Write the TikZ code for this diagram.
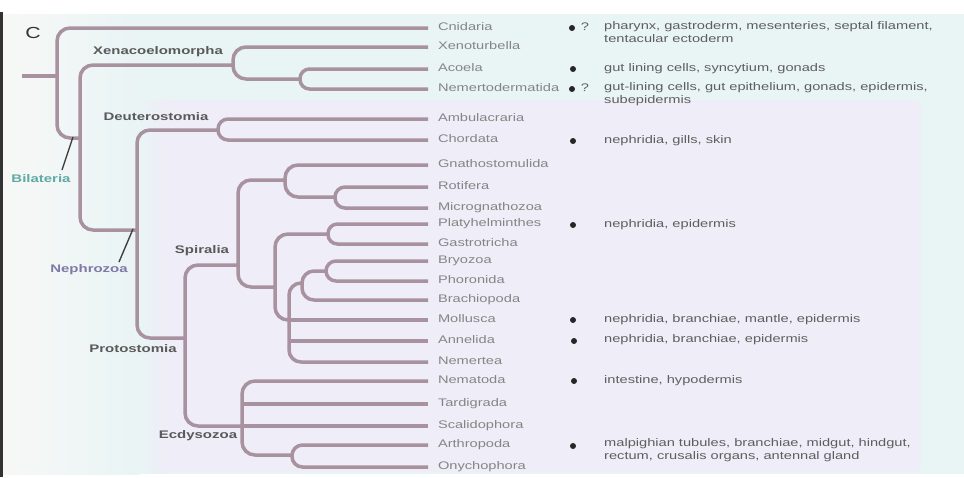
\documentclass[tikz,border=0pt]{standalone}
\usepackage{fontspec}
\newfontfamily\tipfam{Liberation Sans}[FakeStretch=1.33]
\newfontfamily\cladefam{Liberation Sans}[FakeStretch=1.36]
\newcommand\tipfont{\tipfam\fontsize{11}{13}\selectfont}
\newcommand\cladefont{\cladefam\bfseries\fontsize{11}{13}\selectfont}
\definecolor{brc}{HTML}{A8929F}
\definecolor{tipc}{HTML}{858585}
\definecolor{cladec}{HTML}{5A5A5A}
\definecolor{bilc}{HTML}{5FAAA2}
\definecolor{nephc}{HTML}{7E79A6}
\definecolor{descc}{HTML}{5E5E5E}
\definecolor{cyanbg}{HTML}{E9F4F5}
\definecolor{lavbg}{HTML}{EFEDF7}
\definecolor{whbg}{HTML}{F7F8F6}
\newcommand\brk[4]{\draw[br, rounded corners=#1] (#2) -- (#2 -| #3) -- (#4 -| #3) -- (#4);}
\begin{document}
\begin{tikzpicture}[x=1pt,y=-1pt,
  br/.style={draw=brc, line width=3.5pt},
  tip/.style={anchor=west, inner xsep=0pt, inner ysep=0pt, outer xsep=10pt, text=tipc, font=\tipfont, text height=7.9pt, text depth=2.2pt},
  clade/.style={text=cladec, font=\cladefont, inner sep=0pt, text height=7.9pt, text depth=2.2pt},
  desc/.style={anchor=west, inner sep=0pt, text=descc, font=\tipfont, text height=7.9pt, text depth=2.2pt},
  dotm/.style={circle, fill=black!85, inner sep=0pt, minimum size=6pt},
  qm/.style={text=descc, font=\tipfont, inner sep=0pt},
  ptr/.style={draw=black!75, line width=1.4pt}
]
\useasboundingbox (0,0) rectangle (964,477);
% background
\fill[white] (0,0) rectangle (964,477);
\fill[cyanbg] (3,14) rectangle (964,474);
\shade[left color=whbg, right color=cyanbg] (3,14) rectangle (140,474);
\fill[lavbg, rounded corners=8pt] (150,100) rectangle (921,472);
\shade[left color=cyanbg, right color=lavbg] (140,100) rectangle (166,472);
\fill[black!80] (0,12) rectangle (2.5,477);
% panel letter
\node[text=black!80, font=\tipfam\fontsize{16}{18}\selectfont, inner sep=0pt] (letter) at (33,33) {C};
% tips
\node[tip] (tCni) at (428,28) {Cnidaria};
\node[tip] (tXnt) at (428,47) {Xenoturbella};
\node[tip] (tAco) at (428,69) {Acoela};
\node[tip] (tNmd) at (428,89) {Nemertodermatida};
\node[tip] (tAmb) at (428,119) {Ambulacraria};
\node[tip] (tCho) at (428,140) {Chordata};
\node[tip] (tGns) at (428,165) {Gnathostomulida};
\node[tip] (tRot) at (428,187) {Rotifera};
\node[tip] (tMic) at (428,208) {Micrognathozoa};
\node[tip] (tPla) at (428,224) {Platyhelminthes};
\node[tip] (tGas) at (428,244) {Gastrotricha};
\node[tip] (tBry) at (428,261) {Bryozoa};
\node[tip] (tPho) at (428,281) {Phoronida};
\node[tip] (tBra) at (428,300) {Brachiopoda};
\node[tip] (tMol) at (428,320) {Mollusca};
\node[tip] (tAnn) at (428,341) {Annelida};
\node[tip] (tNmr) at (428,362) {Nemertea};
\node[tip] (tNem) at (428,381) {Nematoda};
\node[tip] (tTar) at (428,404) {Tardigrada};
\node[tip] (tSca) at (428,426) {Scalidophora};
\node[tip] (tArt) at (428,445) {Arthropoda};
\node[tip] (tOny) at (428,467) {Onychophora};
% internal nodes
\coordinate (r0) at (22,76);
\coordinate (nRoot) at (57,76);
\coordinate (nBil) at (80,138);
\coordinate (nXen) at (233,65);
\coordinate (nAcoe) at (300,79);
\coordinate (nNeph) at (137,230);
\coordinate (nDeu) at (218,130);
\coordinate (nPro) at (185,338);
\coordinate (nSpi) at (238,265);
\coordinate (nGna) at (285,180);
\coordinate (nRM) at (335,197);
\coordinate (nPlat) at (275,287);
\coordinate (nRou) at (328,234);
\coordinate (nLoph) at (289,320);
\coordinate (nBPB) at (302,283);
\coordinate (nBP) at (326,271);
\coordinate (nEcd) at (242,426);
\coordinate (nPan) at (292,455);
% branches
\draw[br] (r0) -- (nRoot);
\brk{13pt}{tCni.west}{nRoot}{nBil}
\brk{13pt}{nXen}{nBil}{nNeph}
\brk{13pt}{tXnt.west}{nXen}{nAcoe}
\brk{9.5pt}{tAco.west}{nAcoe}{tNmd.west}
\brk{13pt}{nDeu}{nNeph}{nPro}
\brk{10pt}{tAmb.west}{nDeu}{tCho.west}
\brk{13pt}{nSpi}{nPro}{nEcd}
\brk{13pt}{nGna}{nSpi}{nPlat}
\brk{13pt}{tGns.west}{nGna}{nRM}
\brk{10pt}{tRot.west}{nRM}{tMic.west}
\brk{13pt}{nRou}{nPlat}{nLoph}
\brk{9.5pt}{tPla.west}{nRou}{tGas.west}
\brk{12pt}{nBPB}{nLoph}{tNmr.west}
\draw[br] (nLoph) -- (tMol.west);
\draw[br] (tAnn.west) -- (tAnn.west -| nLoph);
\brk{12pt}{nBP}{nBPB}{tBra.west}
\brk{10pt}{tBry.west}{nBP}{tPho.west}
\brk{13pt}{tNem.west}{nEcd}{nPan}
\draw[br] (tTar.west) -- (tTar.west -| nEcd);
\draw[br] (tSca.west) -- (nEcd);
\brk{10.5pt}{tArt.west}{nPan}{tOny.west}
% clade labels
\node[clade] (lXen) at (158,52) {Xenacoelomorpha};
\node[clade] (lDeu) at (156,118) {Deuterostomia};
\node[clade, text=bilc] (lBil) at (41,180) {Bilateria};
\node[clade, text=nephc] (lNep) at (89,270) {Nephrozoa};
\node[clade] (lSpi) at (202,251) {Spiralia};
\node[clade] (lPro) at (133,350) {Protostomia};
\node[clade] (lEcd) at (198,436) {Ecdysozoa};
\coordinate (pBilA) at (62,170);
\coordinate (pBilB) at (73,137);
\coordinate (pNepA) at (119,262);
\coordinate (pNepB) at (133,229);
\draw[ptr] (pBilA) -- (pBilB);
\draw[ptr] (pNepA) -- (pNepB);
% dots and question marks
\node[dotm] (dCni) at (572,28) {};
\node[qm] (qCni) at (585,27) {?};
\node[dotm] (dAco) at (573,69) {};
\node[dotm] (dNmd) at (572,89) {};
\node[qm] (qNmd) at (585,88) {?};
\node[dotm] (dCho) at (573,141) {};
\node[dotm] (dPla) at (573,225) {};
\node[dotm] (dMol) at (573,320) {};
\node[dotm] (dAnn) at (574,341) {};
\node[dotm] (dNem) at (574,381) {};
\node[dotm] (dArt) at (573,446) {};
% descriptions
\node[desc] (eCni1) at (604,27) {pharynx, gastroderm, mesenteries, septal filament,};
\node[desc] (eCni2) at (604,40) {tentacular ectoderm};
\node[desc] (eAco) at (604,69) {gut lining cells, syncytium, gonads};
\node[desc] (eNmd1) at (604,88) {gut-lining cells, gut epithelium, gonads, epidermis,};
\node[desc] (eNmd2) at (604,101) {subepidermis};
\node[desc] (eCho) at (604,141) {nephridia, gills, skin};
\node[desc] (ePla) at (604,225) {nephridia, epidermis};
\node[desc] (eMol) at (604,320) {nephridia, branchiae, mantle, epidermis};
\node[desc] (eAnn) at (604,340) {nephridia, branchiae, epidermis};
\node[desc] (eNem) at (604,381) {intestine, hypodermis};
\node[desc] (eArt1) at (604,444) {malpighian tubules, branchiae, midgut, hindgut,};
\node[desc] (eArt2) at (604,457) {rectum, crusalis organs, antennal gland};
\end{tikzpicture}
\end{document}
